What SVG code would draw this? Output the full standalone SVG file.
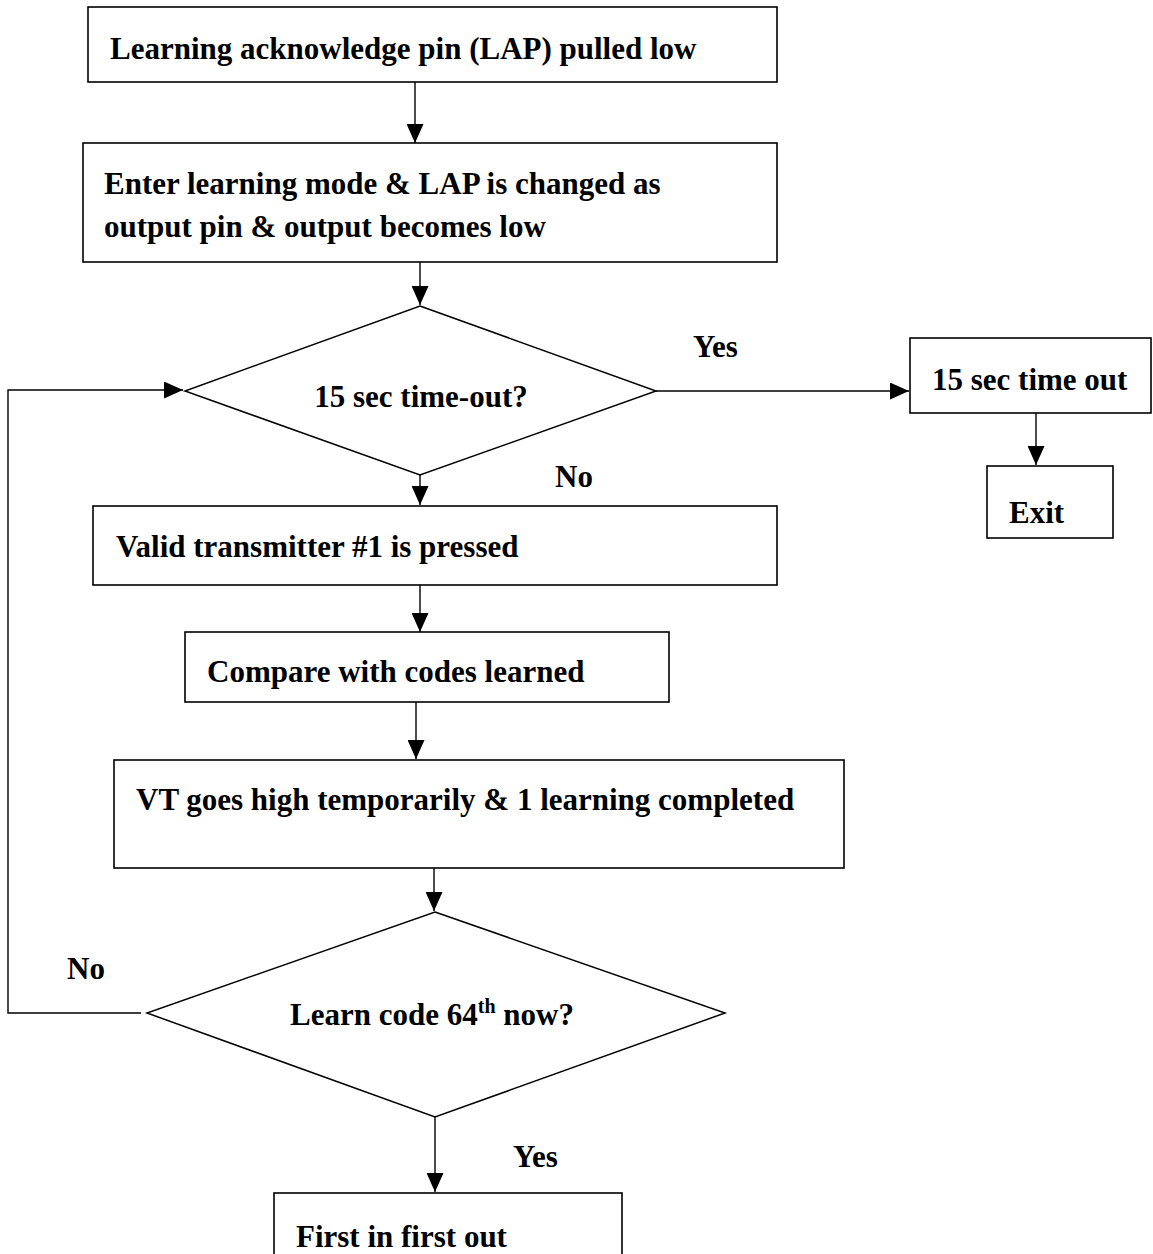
<svg xmlns="http://www.w3.org/2000/svg" width="1153" height="1254" viewBox="0 0 1153 1254">
<style>
.box{fill:#fff;stroke:#000;stroke-width:1.6}
.dia{fill:#fff;stroke:#000;stroke-width:1.5}
.ln{fill:none;stroke:#000;stroke-width:1.4}
text{font-family:"Liberation Serif","Times New Roman",serif;font-weight:bold;font-size:31px;fill:#000}
</style>
<defs>
<marker id="ah" markerWidth="19" markerHeight="17" refX="19" refY="8.5" orient="auto" markerUnits="userSpaceOnUse">
<path d="M0,0 L19,8.5 L0,17 Z" fill="#000"/>
</marker>
</defs>
<rect width="1153" height="1254" fill="#fff"/>
<g id="connectors">
<line class="ln" x1="415" y1="82" x2="415" y2="143" marker-end="url(#ah)"/>
<line class="ln" x1="420" y1="262" x2="420" y2="305" marker-end="url(#ah)"/>
<line class="ln" x1="656" y1="391" x2="909" y2="391" marker-end="url(#ah)"/>
<line class="ln" x1="1036" y1="413" x2="1036" y2="465" marker-end="url(#ah)"/>
<line class="ln" x1="420" y1="475" x2="420" y2="505" marker-end="url(#ah)"/>
<line class="ln" x1="420" y1="585" x2="420" y2="632" marker-end="url(#ah)"/>
<line class="ln" x1="416" y1="702" x2="416" y2="759" marker-end="url(#ah)"/>
<line class="ln" x1="434" y1="868" x2="434" y2="911" marker-end="url(#ah)"/>
<line class="ln" x1="435" y1="1117" x2="435" y2="1192" marker-end="url(#ah)"/>
<polyline class="ln" points="141,1013 8,1013 8,390 183,390" marker-end="url(#ah)"/>
<text x="693" y="357">Yes</text>
<text x="555" y="487">No</text>
<text x="67" y="979">No</text>
<text x="513" y="1167">Yes</text>
</g>
<g id="n1">
<rect class="box" x="88" y="7" width="689" height="75"/>
<text x="110" y="59">Learning acknowledge pin (LAP) pulled low</text>
</g>
<g id="n2">
<rect class="box" x="83" y="143" width="694" height="119"/>
<text x="104" y="194">Enter learning mode &amp; LAP is changed as</text>
<text x="104" y="237">output pin &amp; output becomes low</text>
</g>
<g id="d1">
<polygon class="dia" points="420,306 656,391 420,475 185,391"/>
<text x="421" y="407" text-anchor="middle">15 sec time-out?</text>
</g>
<g id="n3">
<rect class="box" x="910" y="338" width="241" height="75"/>
<text x="932" y="390">15 sec time out</text>
</g>
<g id="n4">
<rect class="box" x="987" y="466" width="126" height="72"/>
<text x="1009" y="523">Exit</text>
</g>
<g id="n5">
<rect class="box" x="93" y="506" width="684" height="79"/>
<text x="116" y="557">Valid transmitter #1 is pressed</text>
</g>
<g id="n6">
<rect class="box" x="185" y="632" width="484" height="70"/>
<text x="207" y="682">Compare with codes learned</text>
</g>
<g id="n7">
<rect class="box" x="114" y="760" width="730" height="108"/>
<text x="136" y="810">VT goes high temporarily &amp; 1 learning completed</text>
</g>
<g id="d2">
<polygon class="dia" points="435,912 725,1013 435,1117 147,1013"/>
<text x="432" y="1025" text-anchor="middle">Learn code 64<tspan font-size="20" dy="-12">th</tspan><tspan dy="12"> now?</tspan></text>
</g>
<g id="n8">
<rect class="box" x="274" y="1193" width="348" height="80"/>
<text x="296" y="1247">First in first out</text>
</g>
</svg>
